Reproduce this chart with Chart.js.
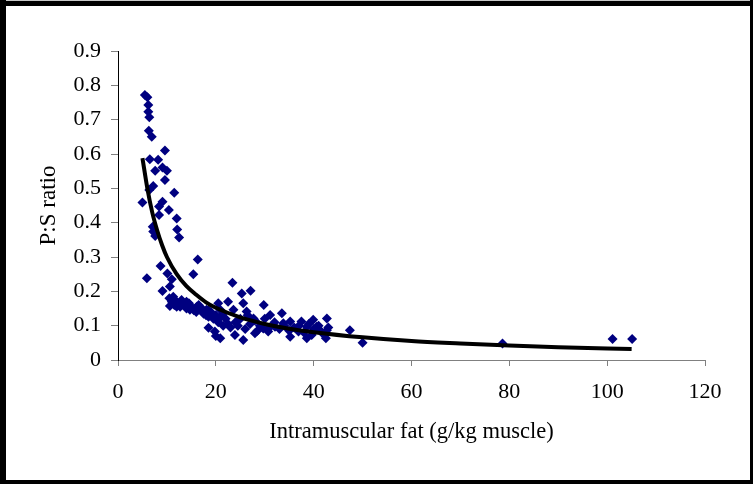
<!DOCTYPE html>
<html>
<head>
<meta charset="utf-8">
<script src="https://cdn.jsdelivr.net/npm/chart.js@4/dist/chart.umd.min.js"></script>
<style>
html,body{margin:0;padding:0;background:#fff;overflow:hidden;}
canvas{display:block;}
</style>
</head>
<body>
<canvas id="c" width="753" height="484"></canvas>
<script>
// ---- data ----
const fatX = [
  5.5, 6.0, 6.2, 6.2, 6.4, 6.3, 6.9, 9.6, 6.5, 8.2, 7.6, 9.1, 10.0, 9.6, 7.2, 6.4, 11.5, 5.0, 9.1, 8.4,
  10.4, 8.4, 12.0, 12.1, 12.5, 7.1, 7.2, 7.6, 16.3, 8.7, 15.4, 5.9, 10.1, 11.0, 9.1, 10.6, 11.3, 12.0,
  10.6, 12.7, 14.0, 14.7, 16.1, 17.4, 18.5, 18.5, 20.0, 20.9, 20.9, 23.4, 25.3, 27.1, 18.1, 19.8, 23.9,
  25.6, 20.5, 22.5, 21.5, 23.6, 25.6, 26.3, 27.7, 28.0, 29.8, 30.7, 31.1, 33.5, 33.8, 35.2, 35.2, 37.5,
  38.6, 39.9, 40.6, 42.7, 42.5, 42.7, 39.6, 47.4, 29.7, 32.1, 36.9, 41.3, 38.6, 50.0, 78.6, 101.1, 105.1,
  10.5, 11.0, 11.5, 12.0, 12.5, 13.0, 13.5, 14.0, 14.5, 15.0, 15.5, 16.0, 16.5, 17.0, 17.5, 18.0, 18.5,
  19.0, 19.5, 20.0, 20.5, 21.0, 21.5, 22.0, 22.5, 23.0, 24.0, 24.5, 25.0, 26.0, 26.5, 27.0, 28.0, 28.5,
  29.0, 30.0, 31.0, 32.0, 33.0, 34.0, 35.0, 36.0, 37.0, 38.0, 39.0, 40.0, 41.0, 42.0, 43.0
];
const psRatio = [
  0.772, 0.765, 0.743, 0.723, 0.707, 0.668, 0.650, 0.610, 0.585, 0.583, 0.551, 0.561, 0.551, 0.524, 0.507, 0.495, 0.487, 0.459, 0.461, 0.447,
  0.437, 0.422, 0.412, 0.380, 0.357, 0.388, 0.374, 0.361, 0.293, 0.274, 0.250, 0.238, 0.252, 0.235, 0.201, 0.214, 0.184, 0.170,
  0.157, 0.155, 0.170, 0.146, 0.155, 0.146, 0.126, 0.094, 0.070, 0.063, 0.146, 0.225, 0.194, 0.202, 0.146, 0.083, 0.073,
  0.058, 0.165, 0.170, 0.136, 0.146, 0.165, 0.141, 0.121, 0.078, 0.160, 0.083, 0.131, 0.136, 0.107, 0.068, 0.112, 0.112,
  0.063, 0.117, 0.097, 0.121, 0.063, 0.087, 0.073, 0.087, 0.092, 0.097, 0.083, 0.087, 0.097, 0.050, 0.048, 0.061, 0.061,
  0.180, 0.170, 0.160, 0.155, 0.165, 0.175, 0.160, 0.150, 0.165, 0.155, 0.145, 0.140, 0.160, 0.150, 0.135, 0.130, 0.145,
  0.140, 0.120, 0.130, 0.110, 0.125, 0.100, 0.120, 0.105, 0.095, 0.110, 0.100, 0.120, 0.090, 0.130, 0.105, 0.115, 0.085,
  0.100, 0.120, 0.095, 0.110, 0.090, 0.100, 0.085, 0.095, 0.100, 0.080, 0.105, 0.090, 0.100, 0.075, 0.095
];
// trend curve
const trendX = [5.0, 6.0, 7.0, 8.0, 9.0, 10, 12, 14, 16, 18, 20, 25, 30, 35, 40, 50, 60, 70, 80, 90, 105];
const trendY = [0.588, 0.50, 0.43, 0.378, 0.335, 0.30, 0.25, 0.215, 0.19, 0.168, 0.152, 0.124, 0.105, 0.091, 0.081, 0.066, 0.055, 0.048, 0.042, 0.037, 0.032];
const xTicks = [0, 20, 40, 60, 80, 100, 120];
const yTicks = [0, 0.1, 0.2, 0.3, 0.4, 0.5, 0.6, 0.7, 0.8, 0.9];
const yTickLabels = ['0', '0.1', '0.2', '0.3', '0.4', '0.5', '0.6', '0.7', '0.8', '0.9'];
const xTitle = 'Intramuscular fat (g/kg muscle)';
const yTitle = 'P:S ratio';

const scatterData = fatX.map((x, i) => ({x: x, y: psRatio[i]}));
const trendData = trendX.map((x, i) => ({x: x, y: trendY[i]}));

const FONT = '"Liberation Serif", "Times New Roman", serif';

const framePlugin = {
  id: 'frame',
  afterDraw(chart) {
    const ctx = chart.ctx;
    const W = chart.width, H = chart.height;
    ctx.save();
    ctx.fillStyle = '#c8c8c8';
    ctx.fillRect(0, 0, W, 1);
    ctx.fillStyle = '#000';
    ctx.fillRect(0, 1, W, 5);
    ctx.fillRect(0, 0, 6, H);
    ctx.fillRect(W - 3, 0, 3, H);
    ctx.fillRect(0, H - 4, W, 4);
    ctx.restore();
  }
};

new Chart(document.getElementById('c'), {
  type: 'scatter',
  data: {
    datasets: [
      {
        type: 'line',
        label: 'Trend',
        data: trendData,
        borderColor: '#000',
        borderWidth: 4,
        pointRadius: 0,
        fill: false,
        cubicInterpolationMode: 'monotone',
        order: 0
      },
      {
        label: 'P:S ratio',
        data: scatterData,
        pointStyle: 'rectRot',
        pointRadius: 5,
        pointBorderWidth: 0,
        backgroundColor: '#000080',
        borderColor: '#000080',
        order: 1
      }
    ]
  },
  plugins: [framePlugin],
  options: {
    responsive: false,
    animation: false,
    devicePixelRatio: 1,
    layout: {padding: {left: 0, top: 51, right: 48, bottom: 0}},
    plugins: {legend: {display: false}, tooltip: {enabled: false}},
    scales: {
      x: {
        type: 'linear',
        min: 0, max: 120,
        afterBuildTicks: (s) => { s.ticks = xTicks.map(v => ({value: v})); },
        afterFit: (s) => { s.height = 124; },
        border: {color: '#808080', width: 1},
        grid: {drawOnChartArea: false, drawTicks: true, tickLength: 6, tickColor: '#808080', tickWidth: 1},
        ticks: {color: '#000', padding: 13, maxRotation: 0, font: {family: FONT, size: 22}},
        title: {display: true, text: xTitle, color: '#000', font: {family: FONT, size: 22.5}, padding: {top: 0, bottom: 38}}
      },
      y: {
        type: 'linear',
        min: 0, max: 0.9,
        afterBuildTicks: (s) => { s.ticks = yTicks.map(v => ({value: v})); },
        afterFit: (s) => { s.width = 118; },
        border: {color: '#000', width: 1},
        grid: {drawOnChartArea: false, drawTicks: true, tickLength: 7, tickColor: '#808080', tickWidth: 1},
        ticks: {color: '#000', padding: 10, font: {family: FONT, size: 22},
          callback: (v, i) => yTickLabels[i]},
        title: {display: true, text: yTitle, color: '#000', font: {family: FONT, size: 23}, padding: {top: 35, bottom: 0}}
      }
    }
  }
});
</script>
</body>
</html>
